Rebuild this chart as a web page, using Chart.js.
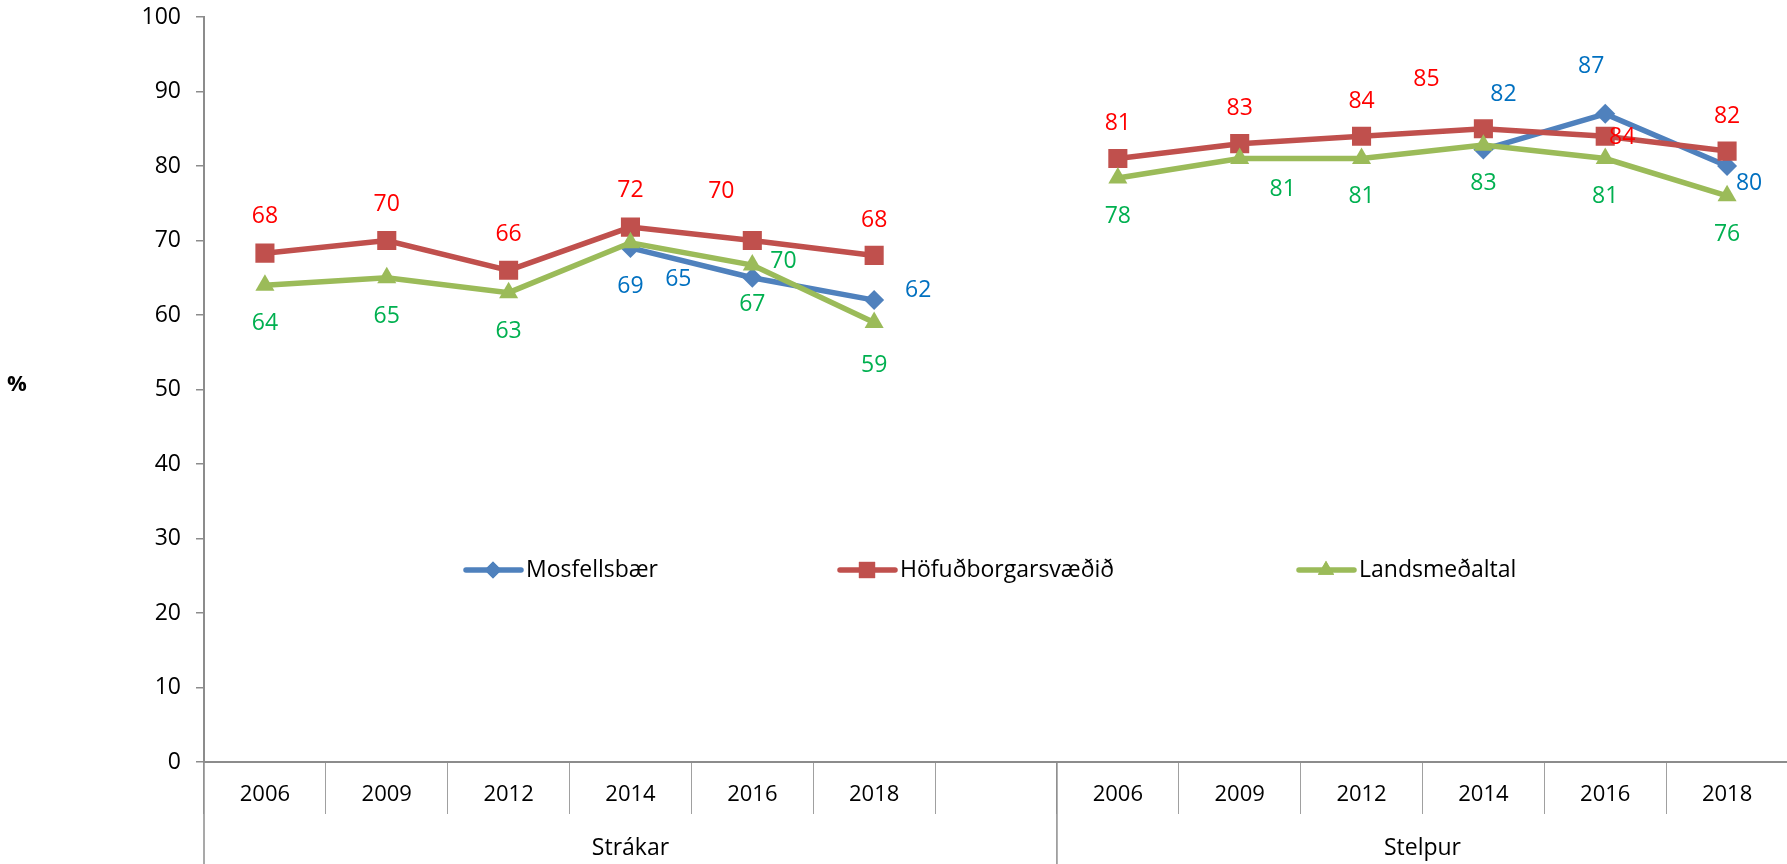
<!DOCTYPE html>
<html>
<head>
<meta charset="utf-8">
<script src="https://cdn.jsdelivr.net/npm/chart.js@4.4.0/dist/chart.umd.min.js"></script>
<style>
  html, body { margin: 0; padding: 0; background: #fff; overflow: hidden; }
  #wrap { position: relative; width: 1787px; height: 864px; }
  #chart { display: block; }
</style>
</head>
<body>
<div id="wrap"><canvas id="chart"></canvas></div>
<script>
// categories: two groups of survey years, one empty slot between them
const years = ['2006', '2009', '2012', '2014', '2016', '2018', '', '2006', '2009', '2012', '2014', '2016', '2018'];
const groups = ['Strákar', 'Stelpur'];
const groupSizes = [7, 6];

const seriesNames = ['Mosfellsbær', 'Höfuðborgarsvæðið', 'Landsmeðaltal'];
const mosfellsbaer = [null, null, null, 69, 65, 62, null, null, null, null, 82.2, 87, 80];
const hofudborg = [68.3, 70, 66, 71.8, 70, 68, null, 81, 83, 84, 85, 84, 82];
const landsmedaltal = [64, 65, 63, 69.7, 66.7, 59, null, 78.4, 81, 81, 82.8, 81, 76];

const yTicks = { min: 0, max: 100, step: 10 };

// styling
const lineColors = ['#4F81BD', '#C0504D', '#9BBB59'];
const labelColors = ['#0070C0', '#FF0000', '#00B050'];
const pointStyles = ['rectRot', 'rect', 'triangle'];
const pointRadii = [10, 13.5, 11];
const FONT = '"Open Sans", "Noto Sans", sans-serif';
const AXIS_GREY = '#8C8C8C';

// where each value label sits relative to its point (px), like the moved Excel labels
const labelOffsets = [
  [null, null, null, [0, 39], [-74, 2], [44, -10], null, null, null, null, [20, -55], [-14, -47], [22, 17]],
  [[0, -37], [0, -36], [0, -36], [0, -37], [-31, -49], [0, -35], null, [0, -35], [0, -35], [0, -35], [-57, -49], [17, 1], [0, -35]],
  [[0, 38], [0, 39], [0, 39], [153, 19], [0, 39], [0, 43], null, [0, 39], [43, 31], [0, 38], [0, 38], [0, 38], [0, 39]]
];
const legendX = [466, 840, 1299];
const legendY = 570;

Chart.defaults.font.family = FONT;
Chart.defaults.font.size = 23;
Chart.defaults.color = '#000';

// the plot runs to the right edge of the canvas, as in the original
const fullWidth = {
  id: 'fullWidth',
  afterLayout(chart) {
    const x = chart.scales.x;
    x.right = chart.width + 1;
    x.width = x.right - x.left;
    x.configure();
    chart.chartArea.right = x.right;
    chart.chartArea.width = x.width;
  }
};

const valueLabels = {
  id: 'valueLabels',
  afterDatasetsDraw(chart) {
    const ctx = chart.ctx;
    ctx.save();
    ctx.font = `23px ${FONT}`;
    ctx.textAlign = 'center';
    ctx.textBaseline = 'middle';
    chart.data.datasets.forEach((ds, i) => {
      chart.getDatasetMeta(i).data.forEach((pt, j) => {
        const v = ds.data[j];
        if (v == null) return;
        const off = labelOffsets[i][j] || [0, 0];
        ctx.fillStyle = labelColors[i];
        ctx.fillText(String(Math.round(v)), pt.x + off[0], pt.y + off[1]);
      });
    });
    ctx.restore();
  }
};

const extras = {
  id: 'extras',
  afterDraw(chart) {
    const ctx = chart.ctx;
    const x = chart.scales.x, area = chart.chartArea;
    const slot = x.width / years.length;
    ctx.save();
    // group dividers and group names under the year row
    ctx.strokeStyle = AXIS_GREY;
    ctx.lineWidth = 1.5;
    let start = 0;
    groups.forEach((g, gi) => {
      const x0 = x.left + start * slot;
      const x1 = x.left + (start + groupSizes[gi]) * slot;
      ctx.beginPath();
      ctx.moveTo(x0, area.bottom);
      ctx.lineTo(x0, chart.height);
      ctx.stroke();
      ctx.fillStyle = '#000';
      ctx.font = `23px ${FONT}`;
      ctx.textAlign = 'center';
      ctx.textBaseline = 'middle';
      ctx.fillText(g, (x0 + x1) / 2, 848);
      start += groupSizes[gi];
    });
    // axis title
    ctx.font = `bold 22px ${FONT}`;
    ctx.fillText('%', 17, 385);
    // legend
    seriesNames.forEach((name, i) => {
      const lx = legendX[i];
      ctx.strokeStyle = lineColors[i];
      ctx.lineWidth = 5.5;
      ctx.lineCap = 'round';
      ctx.beginPath();
      ctx.moveTo(lx, legendY);
      ctx.lineTo(lx + 55, legendY);
      ctx.stroke();
      ctx.fillStyle = lineColors[i];
      Chart.helpers.drawPoint(ctx, { pointStyle: pointStyles[i], radius: pointRadii[i] * 0.85, rotation: 0, borderWidth: 0 }, lx + 27, legendY);
      ctx.fill();
      ctx.fillStyle = '#000';
      ctx.textAlign = 'left';
      ctx.font = `23px ${FONT}`;
      ctx.fillText(name, lx + 60, legendY);
    });
    ctx.restore();
  }
};

const seriesData = [mosfellsbaer, hofudborg, landsmedaltal];

new Chart(document.getElementById('chart'), {
  type: 'line',
  data: {
    labels: years,
    datasets: seriesNames.map((name, i) => ({
      label: name,
      data: seriesData[i],
      borderColor: lineColors[i],
      backgroundColor: lineColors[i],
      borderWidth: 5.5,
      pointStyle: pointStyles[i],
      pointRadius: pointRadii[i],
      pointHoverRadius: pointRadii[i],
      pointBorderWidth: 0,
      tension: 0,
      spanGaps: false,
      order: 2 - i
    }))
  },
  options: {
    responsive: true,
    maintainAspectRatio: false,
    animation: false,
    layout: { padding: { top: 17, right: 0, left: 0, bottom: 0 } },
    plugins: { legend: { display: false }, tooltip: { enabled: false } },
    scales: {
      x: {
        offset: true,
        grid: { offset: true, drawOnChartArea: false, tickLength: 52, color: '#A0A0A0', lineWidth: 1 },
        border: { color: AXIS_GREY, width: 2 },
        ticks: { padding: -32, maxRotation: 0, autoSkip: false, font: { size: 22 } },
        afterFit: s => { s.height = 102; s.paddingLeft = 0; s.paddingRight = 0; }
      },
      y: {
        min: yTicks.min,
        max: yTicks.max,
        grid: { drawOnChartArea: false, tickLength: 8, color: AXIS_GREY, lineWidth: 1.5 },
        border: { color: AXIS_GREY, width: 2 },
        ticks: { stepSize: yTicks.step, padding: 15, font: { size: 23 } },
        afterFit: s => { s.width = 204; s.paddingTop = 0; s.paddingBottom = 0; }
      }
    }
  },
  plugins: [fullWidth, valueLabels, extras]
});
</script>
</body>
</html>
